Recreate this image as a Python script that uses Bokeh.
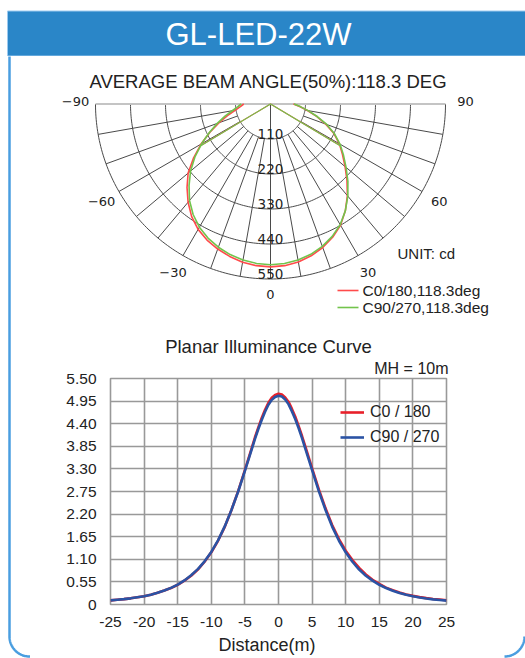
import numpy as np
from bokeh.plotting import figure
from bokeh.models import Range1d, FixedTicker, CustomJSTickFormatter, Legend, LegendItem, Title
from bokeh.layouts import column, row
from bokeh.embed import file_html
from bokeh.resources import INLINE
from bokeh.core.properties import value

# ---------------- data ----------------
header_title = "GL-LED-22W"
polar_title = "AVERAGE BEAM ANGLE(50%):118.3 DEG"
beam_angle = 118.3
unit_text = "UNIT: cd"
ring_values = [110, 220, 330, 440, 550]
angle_ticks = [-90, -60, -30, 0, 30, 60, 90]
angle_tick_labels = ["\u221290", "\u221260", "\u221230", "0", "30", "60", "90"]
polar_angles = list(range(-90, 95, 5))
c0_cd = [84, 95, 113, 140, 172, 210, 252, 295, 338, 371, 403, 432, 455, 472, 485, 496, 505, 510,
         512,
         510, 504, 494, 480, 462, 440, 410, 376, 340, 306, 276, 250, 220, 185, 150, 118, 92, 72]
c90_cd = [92, 104, 122, 148, 178, 212, 250, 290, 328, 362, 396, 424, 447, 465, 479, 490, 498, 503,
          505,
          503, 498, 489, 476, 459, 438, 410, 378, 344, 310, 280, 252, 222, 188, 152, 120, 94, 74]
polar_series_names = ["C0/180,118.3deg", "C90/270,118.3deg"]

curve_title = "Planar Illuminance Curve"
mh_text = "MH = 10m"
x_label = "Distance(m)"
distance = [-25, -24, -23, -22, -21, -20, -19, -18, -17, -16, -15, -14, -13, -12, -11, -10, -9, -8,
            -7, -6, -5, -4, -3.5, -3, -2.5, -2, -1.5, -1, -0.5, 0, 0.5, 1, 1.5, 2, 2.5, 3, 3.5, 4,
            5, 6, 7, 8, 9, 10, 11, 12, 13, 14, 15, 16, 17, 18, 19, 20, 21, 22, 23, 24, 25]
c0_lux = [0.10, 0.115, 0.13, 0.15, 0.175, 0.20, 0.24, 0.285, 0.34, 0.40, 0.48, 0.58, 0.70, 0.85,
          1.04, 1.27, 1.55, 1.89, 2.30, 2.76, 3.27, 3.80, 4.07, 4.31, 4.54, 4.74, 4.91, 5.03, 5.10,
          5.13,
          5.11, 5.04, 4.93, 4.76, 4.57, 4.34, 4.10, 3.84, 3.31, 2.80, 2.34, 1.93, 1.59, 1.31, 1.08,
          0.89, 0.73, 0.60, 0.50, 0.41, 0.35, 0.29, 0.245, 0.21, 0.18, 0.155, 0.135, 0.12, 0.105]
c90_lux = [0.10, 0.115, 0.13, 0.15, 0.175, 0.20, 0.24, 0.285, 0.34, 0.405, 0.485, 0.585, 0.71, 0.86,
           1.05, 1.28, 1.56, 1.90, 2.30, 2.75, 3.25, 3.77, 4.03, 4.27, 4.49, 4.69, 4.86, 4.98, 5.05,
           5.08,
           5.06, 4.99, 4.87, 4.70, 4.51, 4.29, 4.05, 3.79, 3.27, 2.76, 2.30, 1.89, 1.55, 1.27, 1.04,
           0.85, 0.70, 0.58, 0.48, 0.40, 0.335, 0.28, 0.235, 0.20, 0.17, 0.145, 0.125, 0.11, 0.095]
curve_names = ["C0 / 180", "C90 / 270"]
x_ticks = [-25, -20, -15, -10, -5, 0, 5, 10, 15, 20, 25]
y_ticks = [0, 0.55, 1.1, 1.65, 2.2, 2.75, 3.3, 3.85, 4.4, 4.95, 5.5]

# ---------------- styles ----------------
SANS = value("Liberation Sans")
DJV = value("DejaVu Sans")
FRAME = "#4a9ee0"
HEADER = "#2a86c8"
HEADER_EDGE = "#9ccaf0"
RED_P = "#ff4b4b"
GREEN_P = "#72c44c"
RED = "#e8202a"
BLUE = "#2b53a4"
GRID = "#999999"
TXT = "#222222"

W, H = 525, 658
LEFT_W, RIGHT_W = 30, 28
MID_W = W - LEFT_W - RIGHT_W
HEAD_H = 56
TOP_H = 356
HDR_T, HDR_B = 10.5, 55.5

CX, CY = 270.0, 103.5
PX_PER_CD = 35.0 / 110.0


def polar_xy(angles_deg, vals):
    a = np.radians(np.asarray(angles_deg, dtype=float))
    r = np.asarray(vals, dtype=float) * PX_PER_CD
    return CX + r * np.sin(a), CY + r * np.cos(a)


def page_fig(x0, x1, y0, y1):
    f = figure(width=x1 - x0, height=y1 - y0, x_range=Range1d(x0, x1), y_range=Range1d(y1, y0),
               x_axis_type=None, y_axis_type=None, output_backend="svg", toolbar_location=None,
               min_border=0, outline_line_color=None)
    f.grid.visible = False
    return f


# ---------------- header band, full width ----------------
hd = page_fig(0, W, 0, HEAD_H)
hd.quad(left=[7], right=[600], top=[HDR_T], bottom=[HDR_B], fill_color=HEADER,
        line_color=HEADER_EDGE, line_width=1)
hd.text(x=[258], y=[34], text=[header_title], text_font=SANS, text_font_size="31px",
        text_color="white", text_align="center", text_baseline="middle")

# ---------------- frame strips (full height below header) ----------------
left = page_fig(0, LEFT_W, HEAD_H, H)
t = np.linspace(np.pi, np.pi / 2, 40)
lx = np.concatenate([[9, 9], 29 + 20 * np.cos(t), [60]])
ly = np.concatenate([[HEAD_H - 2, 636], 636 + 20 * np.sin(t), [656]])
left.line(lx, ly, line_color=FRAME, line_width=2.5)

right = page_fig(W - RIGHT_W, W, HEAD_H, H)
t2 = np.linspace(0, np.pi / 2, 40)
right.line(504 + 20 * np.cos(t2), 636 + 20 * np.sin(t2), line_color=FRAME, line_width=2.5)

# ---------------- polar diagram ----------------
p = page_fig(LEFT_W, W - RIGHT_W, HEAD_H, TOP_H)
p.text(x=[268], y=[81], text=[polar_title], text_font=SANS, text_font_size="18.5px",
       text_color=TXT, text_align="center", text_baseline="middle")

r_max = ring_values[-1]
arc_ang = np.linspace(-90, 90, 181)
for rv in ring_values:
    xs, ys = polar_xy(arc_ang, np.full_like(arc_ang, rv))
    p.line(xs, ys, line_color="#4a4a4a", line_width=1)
for a in range(-80, 90, 10):
    r0 = 0 if a == 0 else ring_values[0]
    xs, ys = polar_xy([a, a], [r0, r_max])
    p.line(xs, ys, line_color="#4a4a4a", line_width=1)
xs, ys = polar_xy([-90, 90], [r_max, r_max])
p.line(xs, ys, line_color="#c4c4c4", line_width=2)

half = beam_angle / 2.0
for vals, col in ((c0_cd, RED_P), (c90_cd, GREEN_P)):
    xs, ys = polar_xy(polar_angles, vals)
    p.line(xs, ys, line_color=col, line_width=1.6)
    vl = np.interp(-half, polar_angles, vals)
    vr = np.interp(half, polar_angles, vals)
    bx, by = polar_xy([-half, 0, half], [vl, 0, vr])
    p.line(bx, by, line_color=col, line_width=1.2)

for rv in ring_values:
    p.text(x=[CX], y=[CY + rv * PX_PER_CD - 5], text=[str(rv)], text_font=DJV,
           text_font_size="13.5px", text_color=TXT, text_align="center", text_baseline="middle")

for a, lab in zip(angle_ticks, angle_tick_labels):
    lx_, ly_ = polar_xy([a], [r_max + 20 / PX_PER_CD])
    if abs(a) == 90:
        ly_ = ly_ - 3
    if a == 0:
        ly_ = ly_ - 5
    p.text(x=lx_, y=ly_, text=[lab], text_font=DJV, text_font_size="13px",
           text_color=TXT, text_align="center", text_baseline="middle")

p.text(x=[397], y=[253], text=[unit_text], text_font=SANS, text_font_size="15px",
       text_color=TXT, text_align="left", text_baseline="middle")
for i, (name, col) in enumerate(zip(polar_series_names, (RED_P, GREEN_P))):
    yy = 290 + 17 * i
    p.segment(x0=[337], y0=[yy], x1=[358], y1=[yy], line_color=col, line_width=1.6)
    p.text(x=[362], y=[yy], text=[name], text_font=SANS, text_font_size="15.5px",
           text_color=TXT, text_align="left", text_baseline="middle")

p.text(x=[268], y=[346], text=[curve_title], text_font=SANS, text_font_size="18.5px",
       text_color=TXT, text_align="center", text_baseline="middle")

# ---------------- illuminance chart ----------------
PLOT_L, PLOT_R, PLOT_T, PLOT_B = 110, 446, 378, 607
p2 = figure(width=MID_W, height=H - TOP_H, x_range=Range1d(-25, 25), y_range=Range1d(0, 5.5),
            output_backend="svg", toolbar_location=None,
            min_border_left=PLOT_L - LEFT_W, min_border_right=(W - RIGHT_W) - PLOT_R,
            min_border_top=PLOT_T - TOP_H, min_border_bottom=H - PLOT_B)
p2.title.text = mh_text
p2.title.align = "right"
p2.title.offset = -2
p2.title.text_font = "Liberation Sans"
p2.title.text_font_size = "16px"
p2.title.text_font_style = "normal"
p2.title.text_color = TXT
p2.title.standoff = 3

p2.xaxis.ticker = FixedTicker(ticks=x_ticks)
p2.yaxis.ticker = FixedTicker(ticks=y_ticks)
p2.xaxis.formatter = CustomJSTickFormatter(code="return tick.toString();")
p2.yaxis.formatter = CustomJSTickFormatter(code="return tick == 0 ? '0' : tick.toFixed(2);")
for ax in (p2.xaxis, p2.yaxis):
    ax.axis_line_color = None
    ax.major_tick_line_color = None
    ax.minor_tick_line_color = None
    ax.major_label_text_font = "Liberation Sans"
    ax.major_label_text_font_size = "15.5px"
    ax.major_label_text_color = TXT
p2.xaxis.major_label_standoff = 6
p2.yaxis.major_label_standoff = 8
p2.grid.grid_line_color = GRID
p2.grid.grid_line_width = 1.6
p2.outline_line_color = GRID
p2.outline_line_width = 1.6

r1 = p2.line(distance, c0_lux, line_color=RED, line_width=2.6)
r2 = p2.line(distance, c90_lux, line_color=BLUE, line_width=2.6)

xl = Title(text=x_label, align="left", offset=108, text_font="Liberation Sans",
           text_font_size="18px", text_font_style="normal", text_color=TXT, standoff=7)
p2.add_layout(xl, "below")

leg = Legend(items=[LegendItem(label=curve_names[0], renderers=[r1]),
                    LegendItem(label=curve_names[1], renderers=[r2])],
             location=(230, 157), glyph_width=24, glyph_height=20, spacing=5, padding=0, margin=0,
             label_standoff=6, label_text_font="Liberation Sans", label_text_font_size="16px",
             label_text_color=TXT, background_fill_alpha=0, border_line_alpha=0)
p2.add_layout(leg)

middle = column(row(p), row(p2))
layout = column(hd, row(column(left), middle, column(right)))
open("out.html", "w").write(file_html(layout, INLINE))
